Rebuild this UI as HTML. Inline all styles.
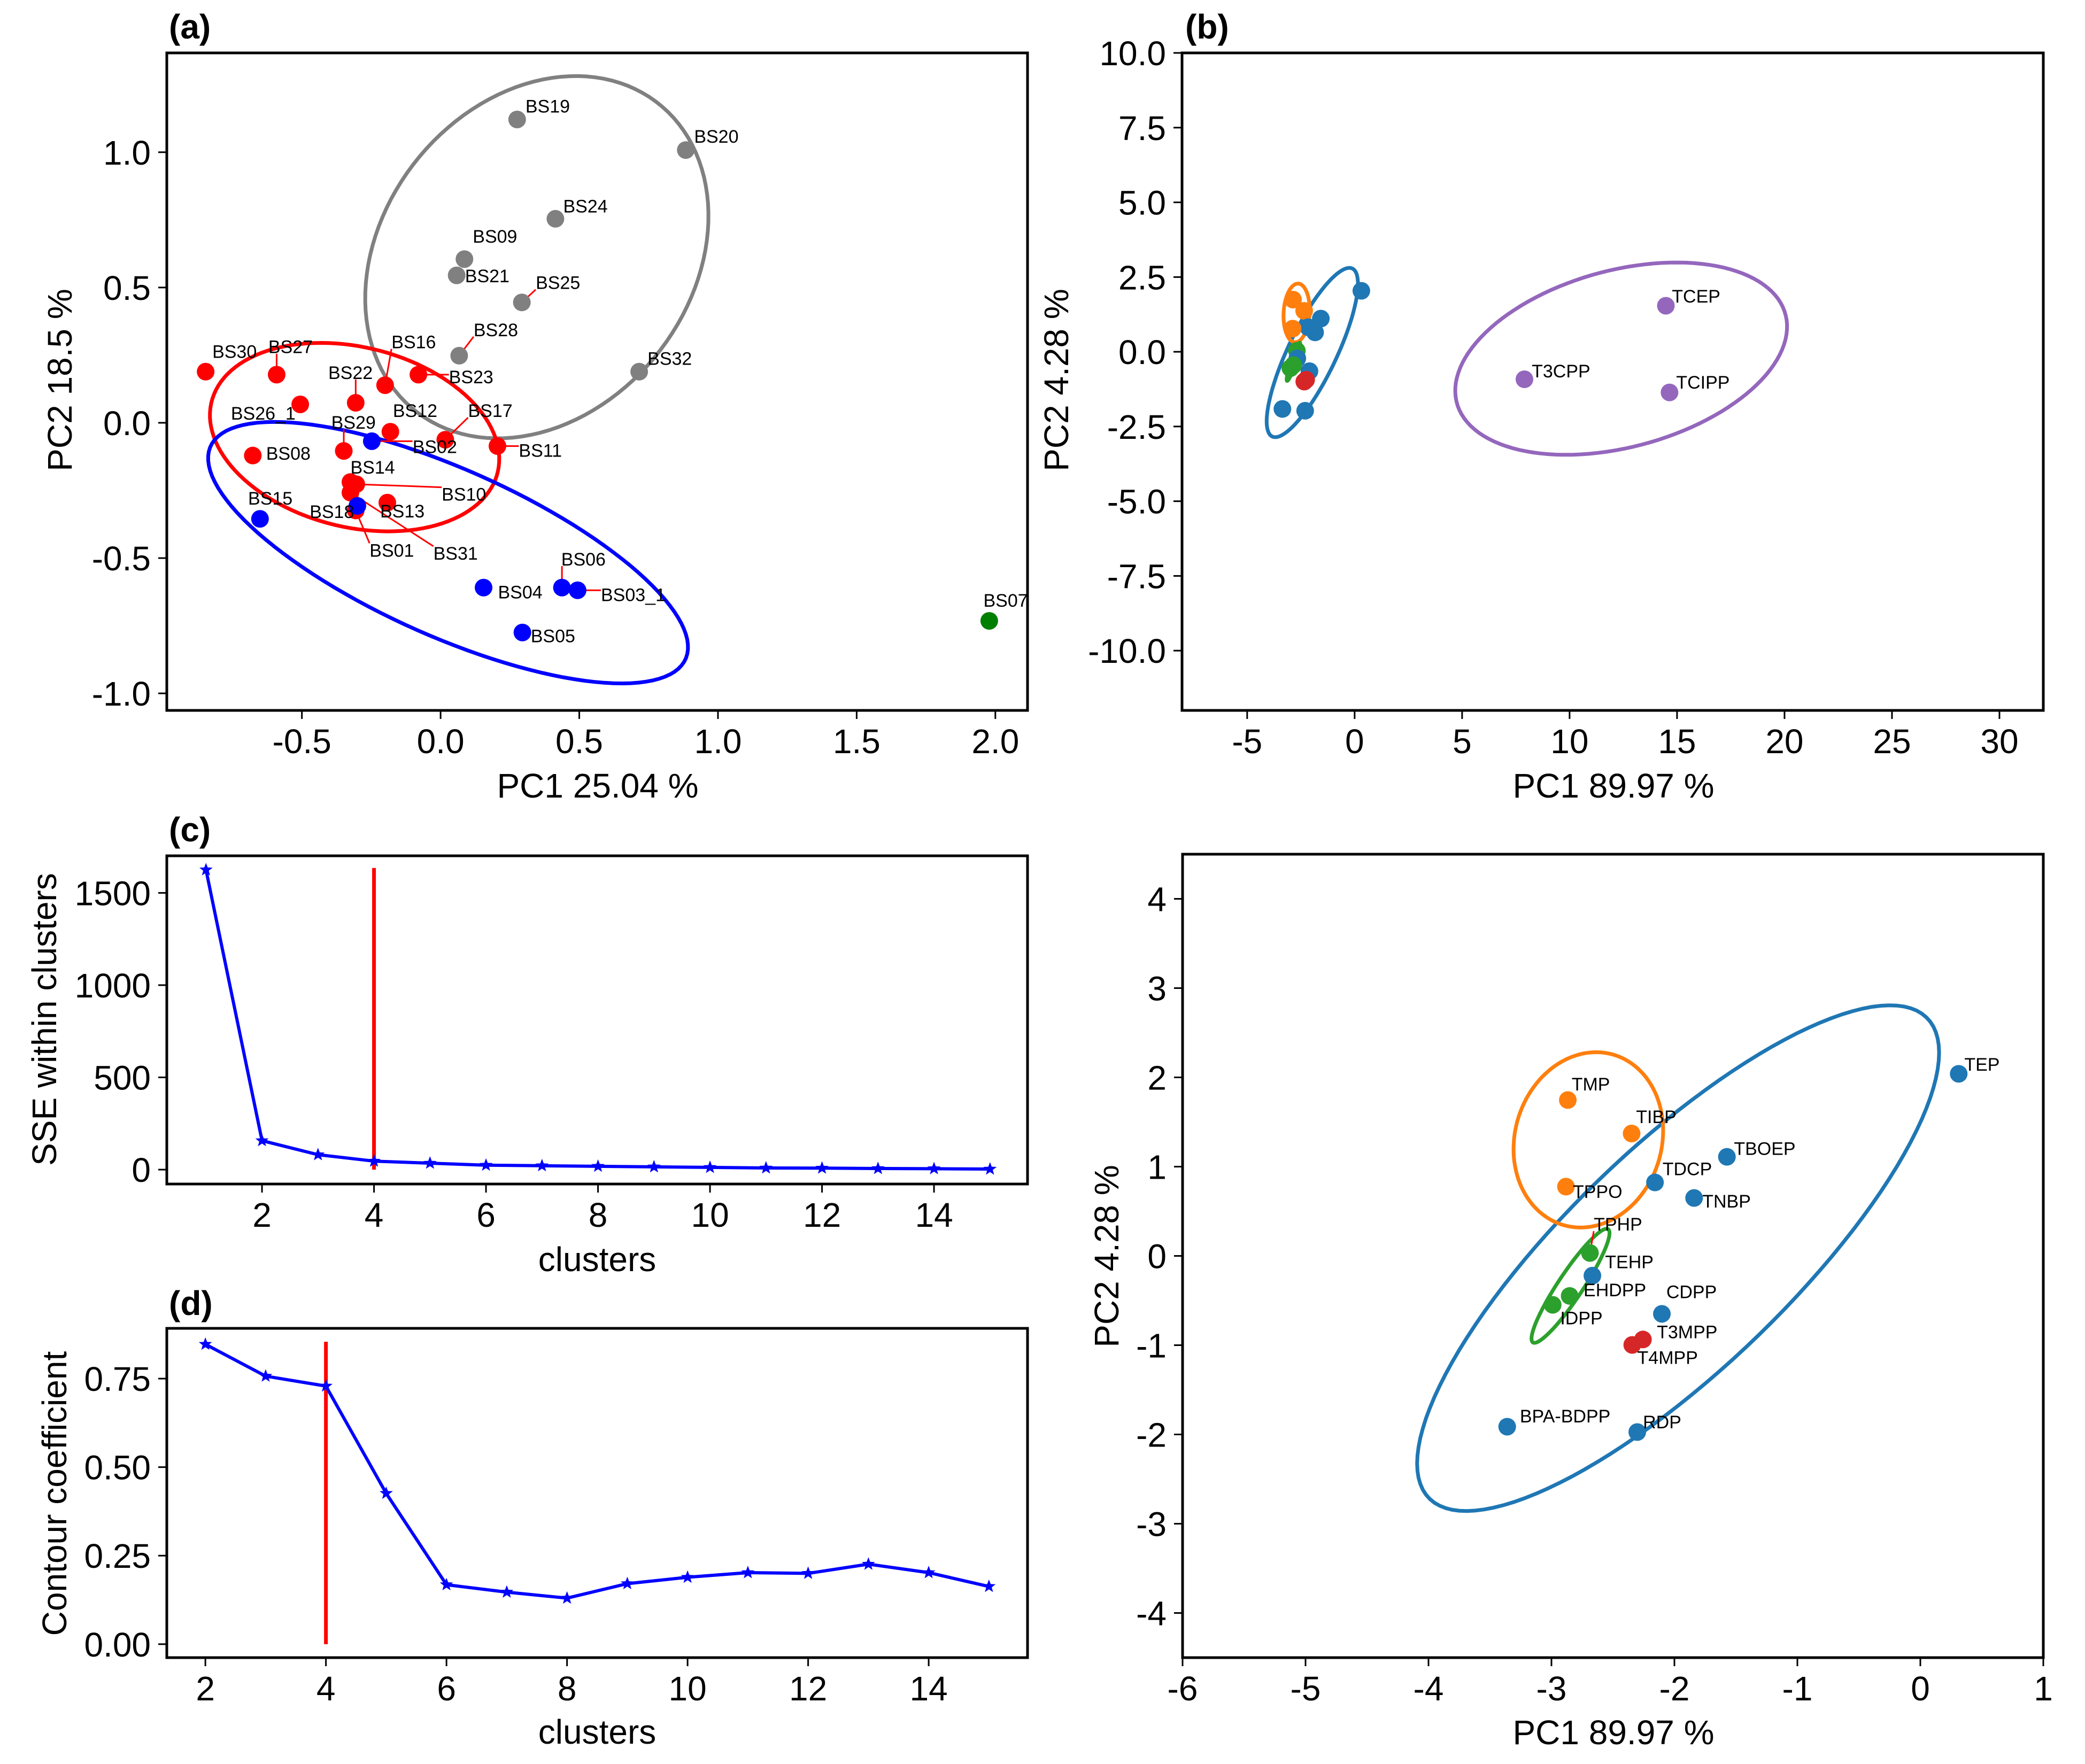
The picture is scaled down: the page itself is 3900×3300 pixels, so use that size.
<!DOCTYPE html>
<html><head><meta charset="utf-8"><style>
html,body{margin:0;padding:0;background:#fff;}
svg{display:block;font-family:"Liberation Sans",sans-serif;}
</style></head><body>
<svg id="fig" xmlns="http://www.w3.org/2000/svg" width="3900" height="3300" viewBox="0 0 3900 3300">
<rect x="0" y="0" width="3900" height="3300" fill="#fff"/>
</svg>
<script>
// ---------- Panel (a) data ----------
const aNames = ["BS19","BS20","BS24","BS09","BS21","BS25","BS28","BS32",
 "BS30","BS27","BS16","BS23","BS22","BS26_1","BS12","BS29","BS17","BS11","BS08","BS14","BS10","BS31","BS13","BS01",
 "BS02","BS15","BS18","BS04","BS06","BS03_1","BS05","BS07"];
const aGroup = ["grey","grey","grey","grey","grey","grey","grey","grey",
 "red","red","red","red","red","red","red","red","red","red","red","red","red","red","red","red",
 "blue","blue","blue","blue","blue","blue","blue","green"];
const aPC1 = [0.276,0.884,0.414,0.086,0.058,0.293,0.067,0.716,
 -0.847,-0.591,-0.200,-0.080,-0.306,-0.506,-0.181,-0.349,0.017,0.205,-0.677,-0.325,-0.304,-0.325,-0.192,-0.306,
 -0.248,-0.651,-0.300,0.155,0.4375,0.494,0.295,1.978];
const aPC2 = [1.121,1.008,0.754,0.605,0.545,0.445,0.248,0.189,
 0.189,0.178,0.139,0.178,0.074,0.068,-0.033,-0.104,-0.0625,-0.086,-0.121,-0.219,-0.227,-0.258,-0.295,-0.324,
 -0.068,-0.355,-0.307,-0.609,-0.609,-0.619,-0.775,-0.732];
const aLabX = [0.306,0.914,0.442,0.116,0.088,0.343,0.119,0.746,
 -0.823,-0.621,-0.177,0.030,-0.405,-0.756,-0.172,-0.394,0.099,0.282,-0.629,-0.325,0.004,-0.026,-0.218,-0.256,
 -0.101,-0.694,-0.472,0.207,0.435,0.578,0.325,1.957];
const aLabY = [1.170,1.059,0.801,0.689,0.543,0.518,0.344,0.238,
 0.264,0.281,0.299,0.170,0.186,0.035,0.045,0.002,0.045,-0.102,-0.113,-0.164,-0.264,-0.482,-0.326,-0.471,
 -0.088,-0.279,-0.328,-0.625,-0.504,-0.635,-0.787,-0.656];
const aEllGroups = ["grey","red","blue"];
const aEllCx = [0.347,-0.310,0.027];
const aEllCy = [0.612,-0.053,-0.480];
const aEllU = [[0.18,0.668],[0.47,-0.22],[0.80,-0.45]];
const aEllV = [[0.592,-0.044],[0.226,0.27],[0.329,0.176]];
const aXTicks = [-0.5,0,0.5,1.0,1.5,2.0];
const aXTickLabels = ["-0.5","0.0","0.5","1.0","1.5","2.0"];
const aYTicks = [-1,-0.5,0,0.5,1];
const aYTickLabels = ["-1.0","-0.5","0.0","0.5","1.0"];

// ---------- Panels (b) and (e) data ----------
const eNames = ["TEP","TMP","TIBP","TBOEP","TDCP","TNBP","TPPO","TPHP","TEHP","EHDPP","IDPP","CDPP","T3MPP","T4MPP","BPA-BDPP","RDP","TCEP","T3CPP","TCIPP"];
const eGroup = ["blue","orange","orange","blue","blue","blue","orange","green","blue","green","green","blue","red","red","blue","blue","purple","purple","purple"];
const ePC1 = [0.312,-2.867,-2.348,-1.573,-2.158,-1.840,-2.882,-2.687,-2.667,-2.852,-2.990,-2.102,-2.256,-2.343,-3.360,-2.302,14.48,7.90,14.65];
const ePC2 = [2.040,1.746,1.371,1.110,0.823,0.649,0.776,0.033,-0.221,-0.448,-0.548,-0.649,-0.936,-0.997,-1.913,-1.973,1.54,-0.92,-1.36];
const eLabX = [0.358,-2.836,-2.312,-1.516,-2.097,-1.773,-2.826,-2.656,-2.564,-2.739,-2.929,-2.066,-2.143,-2.302,-3.257,-2.256,14.76,8.24,14.96];
const eLabY = [2.147,1.926,1.559,1.204,0.977,0.615,0.722,0.355,-0.067,-0.381,-0.696,-0.401,-0.849,-1.137,-1.793,-1.860,1.86,-0.64,-1.02];
const eEllGroups = ["blue","orange","green","purple"];
const eEllCx = [-1.97,-2.70,-2.845,12.4];
const eEllCy = [-0.025,1.30,-0.335,-0.23];
const eEllU = [[2.05,2.65],[0.10,0.98],[0.305,0.635],[7.3,2.0]];
const eEllV = [[-0.55,1.0],[0.60,-0.06],[0.087,-0.071],[2.51,-2.52]];
const bXTicks = [-5,0,5,10,15,20,25,30];
const bXTickLabels = ["-5","0","5","10","15","20","25","30"];
const bYTicks = [-10,-7.5,-5,-2.5,0,2.5,5,7.5,10];
const bYTickLabels = ["-10.0","-7.5","-5.0","-2.5","0.0","2.5","5.0","7.5","10.0"];
const eXTicks = [-6,-5,-4,-3,-2,-1,0,1];
const eXTickLabels = ["-6","-5","-4","-3","-2","-1","0","1"];
const eYTicks = [-4,-3,-2,-1,0,1,2,3,4];
const eYTickLabels = ["-4","-3","-2","-1","0","1","2","3","4"];

// ---------- Panel (c) data ----------
const cClusters = [1,2,3,4,5,6,7,8,9,10,11,12,13,14,15];
const cSSE = [1625,157,81,46,35,24,21,18,15,12,9,8,6,5,3];
const cVline = [4,0,1635];
const cXTicks = [2,4,6,8,10,12,14];
const cXTickLabels = ["2","4","6","8","10","12","14"];
const cYTicks = [0,500,1000,1500];
const cYTickLabels = ["0","500","1000","1500"];

// ---------- Panel (d) data ----------
const dClusters = [2,3,4,5,6,7,8,9,10,11,12,13,14,15];
const dCoef = [0.847,0.757,0.729,0.426,0.168,0.147,0.130,0.171,0.189,0.202,0.200,0.226,0.202,0.163];
const dVline = [4,0,0.854];
const dXTicks = [2,4,6,8,10,12,14];
const dXTickLabels = ["2","4","6","8","10","12","14"];
const dYTicks = [0,0.25,0.5,0.75];
const dYTickLabels = ["0.00","0.25","0.50","0.75"];

const NS = "http://www.w3.org/2000/svg";
const svg = document.getElementById("fig");
const COLORS = {grey:"#808080",red:"#ff0000",blue:"#0000ff",green:"#008000"};
const TAB = {blue:"#1f77b4",orange:"#ff7f0e",green:"#2ca02c",red:"#d62728",purple:"#9467bd"};
const FS = 64, LFS = 34;

function mk(tag, attrs, parent){
  const e = document.createElementNS(NS, tag);
  for (const k in attrs) e.setAttribute(k, attrs[k]);
  (parent||svg).appendChild(e);
  return e;
}
function scale(d0,d1,p0,p1){ return v => p0 + (v-d0)/(d1-d0)*(p1-p0); }

function makeAxes(id, box, xlim, ylim){
  const g = mk("g", {});
  
  
  return {g, box, sx: scale(xlim[0],xlim[1],box[0],box[1]), sy: scale(ylim[0],ylim[1],box[3],box[2])};
}
function drawFrameTicks(ax, id, xt, xtl, yt, ytl){
  const [x0,x1,y0,y1] = ax.box;
  const fr = mk("rect", {x:x0,y:y0,width:x1-x0,height:y1-y0,fill:"none",stroke:"#000","stroke-width":5}, ax.g);
  
  
  xt.forEach((t,i)=>{
    const X = ax.sx(t);
    const tk = mk("line", {x1:X,x2:X,y1:y1,y2:y1+16,stroke:"#000","stroke-width":3}, ax.g);
    
    
    const tl = mk("text", {x:X,y:y1+80,"text-anchor":"middle","font-size":FS}, ax.g);
    
    
    tl.textContent = xtl[i];
  });
  yt.forEach((t,i)=>{
    const Y = ax.sy(t);
    const tk = mk("line", {x1:x0-16,x2:x0,y1:Y,y2:Y,stroke:"#000","stroke-width":3}, ax.g);
    
    
    const tl = mk("text", {x:x0-30,y:Y+23,"text-anchor":"end","font-size":FS}, ax.g);
    
    
    tl.textContent = ytl[i];
  });
}
function axisTitles(ax, id, xt, xx, xy, yt, yx, yy){
  const a = mk("text", {x:xx,y:xy,"text-anchor":"middle","font-size":FS}, ax.g);
  
  
  a.textContent = xt;
  const b = mk("text", {x:0,y:0,"text-anchor":"middle","dominant-baseline":"central","font-size":FS,transform:`translate(${yx},${yy}) rotate(-90)`}, ax.g);
  
  
  b.textContent = yt;
}
function panelLabel(txt, x, y, id){
  const t = mk("text", {x:x,y:y,"font-size":FS,"font-weight":"bold"});
  
  
  t.textContent = txt;
}
function ellipsePath(ax, cx, cy, u, v){
  let d = "";
  for (let i=0;i<=120;i++){
    const t = i/120*2*Math.PI;
    const X = ax.sx(cx + u[0]*Math.cos(t) + v[0]*Math.sin(t));
    const Y = ax.sy(cy + u[1]*Math.cos(t) + v[1]*Math.sin(t));
    d += (i?"L":"M") + X.toFixed(1) + " " + Y.toFixed(1);
  }
  return d + "Z";
}
function clip(ax, id){
  const [x0,x1,y0,y1] = ax.box;
  const cp = mk("clipPath", {id:"clip-"+id}, ax.g);
  mk("rect", {x:x0,y:y0,width:x1-x0,height:y1-y0}, cp);
  const g = mk("g", {"clip-path":`url(#clip-${id})`}, ax.g);
  
  
  return g;
}
function scatterPanel(ax, id, names, groups, xs, ys, lx, ly, colors, showLabel, eg, ecx, ecy, eu, ev, ecolors){
  const g = clip(ax, id);
  eg.forEach((grp,i)=>{
    const p = mk("path", {d:ellipsePath(ax,ecx[i],ecy[i],eu[i],ev[i]),fill:"none",stroke:ecolors[grp],"stroke-width":7}, g);
    
    
  });
  names.forEach((n,i)=>{
    if (!showLabel(i)) return;
    const px = ax.sx(xs[i]), py = ax.sy(ys[i]);
    const bx0 = ax.sx(lx[i]), bx1 = bx0 + n.length*LFS*0.6;
    const by = ax.sy(ly[i]), by0 = by-13, by1 = by+13;
    const qx = Math.max(bx0, Math.min(px, bx1)), qy = Math.max(by0, Math.min(py, by1));
    if (Math.hypot(qx-px, qy-py) > 35){
      const l = mk("line", {x1:px,y1:py,x2:qx,y2:qy,stroke:"#ff0000","stroke-width":3}, g);
      
      
    }
  });
  names.forEach((n,i)=>{
    const c = mk("circle", {cx:ax.sx(xs[i]),cy:ax.sy(ys[i]),r:16.5,fill:colors[groups[i]]}, g);
    
    
  });
  names.forEach((n,i)=>{
    if (!showLabel(i)) return;
    const t = mk("text", {x:ax.sx(lx[i]),y:ax.sy(ly[i])+12,"font-size":LFS}, g);
    
    
    t.textContent = n;
  });
}

// ===== (a) =====
const A = makeAxes("a", [312,1922,99,1329], [-0.987,2.116], [-1.063,1.367]);
scatterPanel(A, "a", aNames, aGroup, aPC1, aPC2, aLabX, aLabY, COLORS, ()=>true, aEllGroups, aEllCx, aEllCy, aEllU, aEllV, COLORS);
drawFrameTicks(A, "a", aXTicks, aXTickLabels, aYTicks, aYTickLabels);
axisTitles(A, "a", "PC1 25.04 %", 1118, 1492, "PC2 18.5 %", 112, 711);
panelLabel("(a)", 316, 72, "a");

// ===== (b) =====
const B = makeAxes("b", [2211,3822,99,1329], [-8.03,32.04], [-12,10]);
scatterPanel(B, "b", eNames, eGroup, ePC1, ePC2, eLabX, eLabY, TAB, i=>eGroup[i]==="purple", eEllGroups, eEllCx, eEllCy, eEllU, eEllV, TAB);
drawFrameTicks(B, "b", bXTicks, bXTickLabels, bYTicks, bYTickLabels);
axisTitles(B, "b", "PC1 89.97 %", 3018, 1492, "PC2 4.28 %", 1976, 711);
panelLabel("(b)", 2217, 72, "b");

// ===== (e) =====
const E = makeAxes("e", [2212,3822,1598,3101], [-6,1], [-4.5,4.5]);
scatterPanel(E, "e", eNames, eGroup, ePC1, ePC2, eLabX, eLabY, TAB, i=>eGroup[i]!=="purple", eEllGroups, eEllCx, eEllCy, eEllU, eEllV, TAB);
drawFrameTicks(E, "e", eXTicks, eXTickLabels, eYTicks, eYTickLabels);
axisTitles(E, "e", "PC1 89.97 %", 3018, 3263, "PC2 4.28 %", 2070, 2350);

// ===== line panels =====
function starPath(X, Y, R){
  let d = "";
  for (let k=0;k<10;k++){
    const r = k%2 ? R*0.42 : R;
    const a = -Math.PI/2 + k*Math.PI/5;
    d += (k?"L":"M") + (X + r*Math.cos(a)).toFixed(1) + " " + (Y + r*Math.sin(a)).toFixed(1);
  }
  return d + "Z";
}
function linePanel(ax, id, xs, ys, vl){
  const g = clip(ax, id);
  const v = mk("line", {x1:ax.sx(vl[0]),x2:ax.sx(vl[0]),y1:ax.sy(vl[1]),y2:ax.sy(vl[2]),stroke:"#ff0000","stroke-width":7}, g);
  
  
  const pts = xs.map((x,i)=>ax.sx(x).toFixed(1)+","+ax.sy(ys[i]).toFixed(1)).join(" ");
  const pl = mk("polyline", {points:pts,fill:"none",stroke:"#0000ff","stroke-width":6,"stroke-linejoin":"round"}, g);
  
  
  xs.forEach((x,i)=>{
    const s = mk("path", {d:starPath(ax.sx(x), ax.sy(ys[i]), 13), fill:"#0000ff"}, g);
    
    
  });
}
const C = makeAxes("c", [312,1922,1601,2215], [0.30,15.67], [-78,1701]);
linePanel(C, "c", cClusters, cSSE, cVline);
drawFrameTicks(C, "c", cXTicks, cXTickLabels, cYTicks, cYTickLabels);
axisTitles(C, "c", "clusters", 1117, 2378, "SSE within clusters", 83, 1907);
panelLabel("(c)", 316, 1574, "c");

const D = makeAxes("d", [312,1922,2485,3101], [1.36,15.64], [-0.038,0.892]);
linePanel(D, "d", dClusters, dCoef, dVline);
drawFrameTicks(D, "d", dXTicks, dXTickLabels, dYTicks, dYTickLabels);
axisTitles(D, "d", "clusters", 1117, 3262, "Contour coefficient", 102, 2794);
panelLabel("(d)", 316, 2460, "d");
</script>
</body></html>
